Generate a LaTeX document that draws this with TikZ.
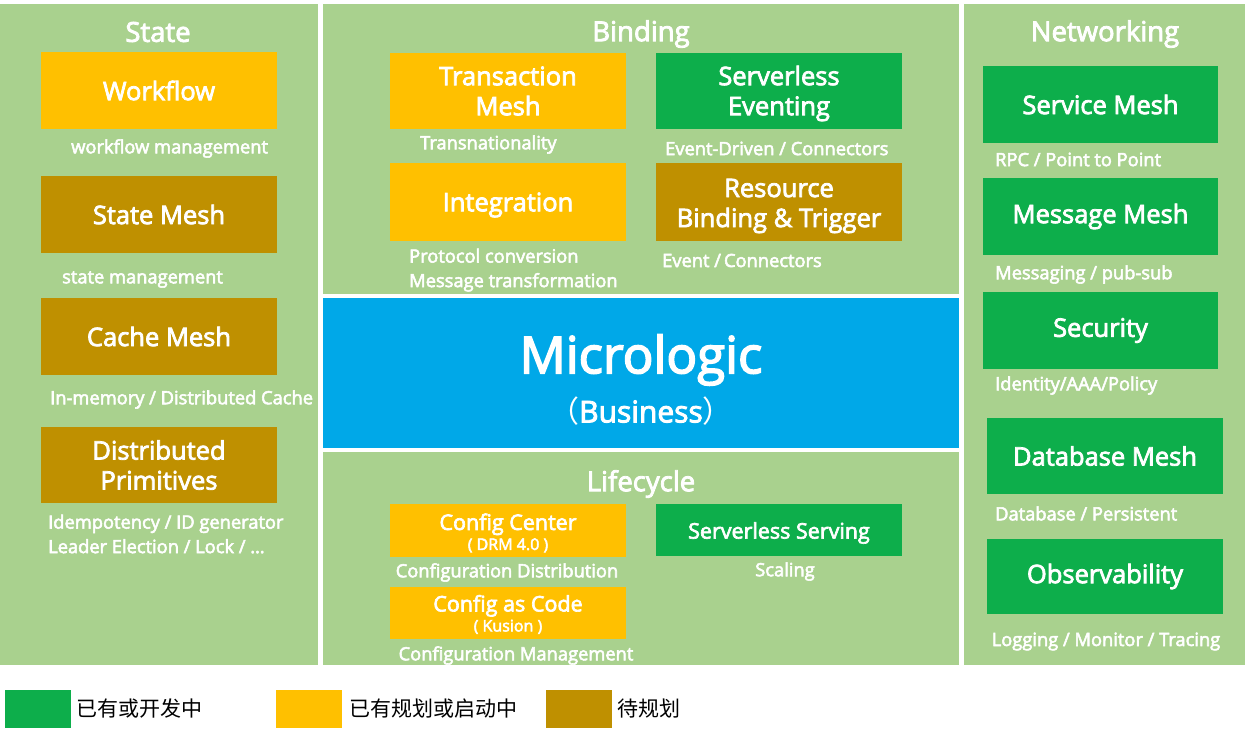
\documentclass[tikz,border=0pt]{standalone}
\usepackage{fontspec}
\setmainfont{Open Sans}[UprightFeatures={FakeBold=3}]
\newfontfamily\cjk{Noto Sans CJK SC}
\definecolor{panelgreen}{HTML}{A9D18E}
\definecolor{okgreen}{HTML}{0DAE4B}
\definecolor{planyellow}{HTML}{FFC000}
\definecolor{todobrown}{HTML}{BF9000}
\definecolor{microblue}{HTML}{00A8E8}
\tikzset{
  panel/.style={fill=panelgreen, draw=none, inner sep=0pt, outer sep=0pt},
  blk/.style={draw=none, inner sep=0pt, outer sep=0pt, text=white, align=center,
     font=\fontsize{25.5}{30}\selectfont},
  gbox/.style={blk, fill=okgreen},
  ybox/.style={blk, fill=planyellow},
  bbox/.style={blk, fill=todobrown},
  sbox/.style={minimum width=236pt, minimum height=76pt},
  btxt/.style={text=white, inner sep=0pt, align=center, font=\fontsize{25.5}{30}\selectfont},
  ttl/.style={text=white, inner sep=0pt, font=\fontsize{27.5}{30}\selectfont},
  lbl/.style={text=white, inner sep=0pt, align=left, yshift=-2.5pt, font=\fontsize{18.3}{24.5}\selectfont},
  lgsq/.style={draw=none, inner sep=0pt, minimum width=66pt, minimum height=38pt},
  lgtxt/.style={inner sep=0pt, anchor=west, text=black, font=\cjk\fontsize{21}{24}\selectfont}
}
\begin{document}
\begin{tikzpicture}[x=1pt,y=-1pt]
\useasboundingbox (0,0) rectangle (1245,733);
% panels
\node[panel, minimum width=318pt, minimum height=661pt] (pstate) at (159,334.5) {};
\node[panel, minimum width=636pt, minimum height=290pt] (pbind) at (641,149) {};
\node[fill=microblue, draw=none, inner sep=0pt, minimum width=636pt, minimum height=150pt] (pmicro) at (641,373) {};
\node[panel, minimum width=636pt, minimum height=213pt] (plife) at (641,558.5) {};
\node[panel, minimum width=281pt, minimum height=661pt] (pnet) at (1104.5,334.5) {};
% titles
\node[ttl] (tstate) at (158,32) {State};
\node[ttl] (tbind) at (641,34) {Binding};
\node[ttl] (tlife) at (641,484) {Lifecycle};
\node[ttl] (tnet) at (1105,34) {Networking};
% State column
\node[ybox, sbox, minimum height=77pt] (workflow) at (159,90.5) {Workflow};
\node[lbl, anchor=west] (lworkflow) at (71,146) {workflow management};
\node[bbox, sbox, minimum height=77pt] (statemesh) at (159,214.5) {State Mesh};
\node[lbl, anchor=west] (lstate) at (62,277) {state management};
\node[bbox, sbox, minimum height=77pt] (cachemesh) at (159,336.5) {Cache Mesh};
\node[lbl, anchor=west] (lcache) at (50,397) {In-memory / Distributed Cache};
\node[bbox, sbox] (distprim) at (159,465) {Distributed\\Primitives};
\node[lbl, anchor=north west] (ldist) at (48,512) {Idempotency / ID generator\\Leader Election / Lock / \dots};
% Binding
\node[ybox, minimum width=236pt, minimum height=76pt] (txmesh) at (508,91) {Transaction\\Mesh};
\node[lbl, anchor=west] (ltx) at (420,142) {Transnationality};
\node[gbox, minimum width=246pt, minimum height=76pt,
  label={[btxt, yshift=-2.5pt]center:{Serverless\\Eventing}}] (slevent) at (779,91) {};
\node[lbl, anchor=west] (lslevent) at (665,146) {Event-Driven / Connectors};
\node[ybox, minimum width=236pt, minimum height=78pt,
  label={[btxt, yshift=-3pt]center:Integration}] (integ) at (508,202) {};
\node[lbl, anchor=north west] (linteg) at (409,246) {Protocol conversion\\Message transformation};
\node[bbox, minimum width=246pt, minimum height=78pt,
  label={[btxt, yshift=-4pt]center:{Resource\\Binding \& Trigger}}] (resbind) at (779,202) {};
\node[lbl, anchor=west] (lresbind) at (662,258) {Event /\,Connectors};
% Micrologic
\node[text=white, inner sep=0pt, font=\fontsize{51}{56}\selectfont] (micro) at (641,360) {Micrologic};
\node[text=white, inner sep=0pt, font=\fontsize{30}{34}\selectfont] (business) at (641,411) {{\cjk （}Business{\cjk ）}};
% Lifecycle
\node[ybox, minimum width=236pt, minimum height=53pt,
  label={[btxt, yshift=-2.5pt, font=\fontsize{21.5}{20}\selectfont]center:{Config Center\\{\fontsize{16}{18}\selectfont ( DRM 4.0 )}}}] (cfgcenter) at (508,530.5) {};
\node[lbl] (lcfgcenter) at (507,570) {Configuration Distribution};
\node[gbox, minimum width=246pt, minimum height=52pt,
  label={[btxt, yshift=-3pt, font=\fontsize{21.5}{24}\selectfont]center:Serverless Serving}] (slserve) at (779,530) {};
\node[lbl] (lslserve) at (785,569) {Scaling};
\node[ybox, minimum width=236pt, minimum height=52pt,
  label={[btxt, yshift=-1.5pt, font=\fontsize{21.5}{20}\selectfont]center:{Config as Code\\{\fontsize{16}{18}\selectfont ( Kusion )}}}] (cfgcode) at (508,613) {};
\node[lbl] (lcfgcode) at (516,653) {Configuration Management};
% Networking
\node[gbox, minimum width=235pt, minimum height=77pt] (svcmesh) at (1100.5,104.5) {Service Mesh};
\node[lbl, anchor=west] (lsvc) at (995,157) {RPC / Point to Point};
\node[gbox, minimum width=235pt, minimum height=77pt] (msgmesh) at (1100.5,216.5) {Message Mesh};
\node[lbl, anchor=west] (lmsg) at (995,272) {Messaging / pub-sub};
\node[gbox, minimum width=235pt, minimum height=77pt] (security) at (1100.5,330.5) {Security};
\node[lbl, anchor=west] (lsec) at (995,383) {Identity/AAA/Policy};
\node[gbox, minimum width=236pt, minimum height=76pt] (dbmesh) at (1105,456) {Database Mesh};
\node[lbl, anchor=west] (ldb) at (995,511) {Database / Persistent};
\node[gbox, minimum width=236pt, minimum height=75pt] (obs) at (1105,576.5) {Observability};
\node[lbl] (lobs) at (1106,639) {Logging / Monitor / Tracing};
% Legend
\node[lgsq, fill=okgreen] (lg1) at (38,709) {};
\node[lgtxt] (lgt1) at (76,709) {已有或开发中};
\node[lgsq, fill=planyellow] (lg2) at (309,709) {};
\node[lgtxt] (lgt2) at (349,709) {已有规划或启动中};
\node[lgsq, fill=todobrown] (lg3) at (579,709) {};
\node[lgtxt] (lgt3) at (617,709) {待规划};
\end{tikzpicture}
\end{document}
